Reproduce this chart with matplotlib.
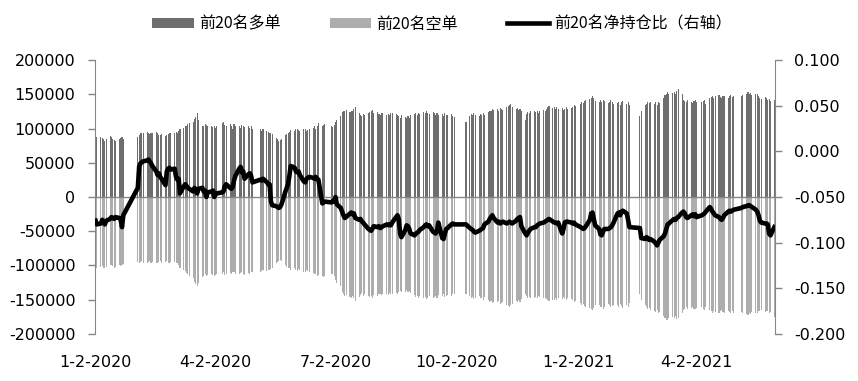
import numpy as np
import pandas as pd
import matplotlib
matplotlib.use("Agg")
import matplotlib.pyplot as plt
from matplotlib.patches import Patch
from matplotlib.lines import Line2D
import matplotlib.dates as mdates

# trading days: weekdays minus exchange holidays
start_date = "2020-01-02"
end_date = "2021-05-31"
holidays = [
    "2020-01-24", "2020-01-27", "2020-01-28", "2020-01-29", "2020-01-30", "2020-01-31",
    "2020-04-06", "2020-05-01", "2020-05-04", "2020-05-05", "2020-06-25", "2020-06-26",
    "2020-10-01", "2020-10-02", "2020-10-05", "2020-10-06", "2020-10-07", "2020-10-08",
    "2021-01-01", "2021-02-11", "2021-02-12", "2021-02-15", "2021-02-16", "2021-02-17",
    "2021-04-05", "2021-05-03", "2021-05-04", "2021-05-05",
]

# top 20 long positions, thousands of lots (one value per trading day)
long_k = [
    83, 88, 87, 86, 84, 82, 85, 89, 87, 85, 83, 82, 84, 86, 87, 85,  # 2020-01
    88, 91, 93, 94, 93, 95, 94, 92, 94, 93, 95, 94, 91, 90, 92, 89, 90, 92, 93, 94,  # 02
    93, 95, 94, 97, 99, 101, 104, 103, 106, 108, 110, 114, 117, 122, 112, 104, 103, 106, 105, 103, 104, 102,  # 03
    103, 101, 104, 108, 110, 105, 104, 107, 103, 100, 106, 104, 103, 101, 105, 104, 102, 104, 101, 103, 100,  # 04
    99, 97, 100, 96, 95, 93, 94, 92, 86, 84, 82, 83, 85, 90, 92, 94, 95, 98,  # 05
    97, 99, 100, 98, 96, 99, 100, 97, 98, 100, 101, 103, 100, 104, 108, 103, 105, 106, 104, 102,  # 06
    105, 110, 112, 118, 124, 126, 125, 127, 124, 126, 125, 128, 132, 122, 120, 118, 121, 119, 122, 124, 126, 127, 123,  # 07
    124, 121, 120, 123, 122, 120, 121, 119, 122, 123, 121, 120, 118, 116, 119, 117, 115, 118, 116, 119, 121,  # 08
    122, 120, 123, 121, 124, 122, 125, 123, 121, 124, 122, 120, 123, 119, 121, 118, 122, 120, 119, 121, 118, 117,  # 09
    110, 118, 121, 119, 122, 120, 118, 121, 120, 122, 119, 124, 126, 125, 128, 127,  # 10
    128, 126, 130, 129, 127, 131, 133, 134, 136, 132, 128, 130, 127, 129, 125, 112, 121, 124, 123, 126, 125,  # 11
    124, 126, 123, 125, 127, 125, 128, 131, 133, 130, 132, 129, 131, 128, 130, 127, 129, 131, 128, 130, 132, 134, 133,  # 12
    136, 138, 137, 140, 141, 143, 145, 147, 144, 140, 138, 141, 139, 142, 140, 137, 139, 141, 138, 136,  # 2021-01
    137, 139, 135, 138, 140, 136, 138, 134, 118, 126, 134, 136, 138, 137, 139,  # 02
    136, 138, 135, 139, 137, 145, 149, 151, 153, 150, 152, 154, 151, 155, 157, 150, 142, 140, 138, 141, 139, 137, 140,  # 03
    141, 139, 138, 140, 142, 136, 144, 146, 148, 145, 147, 149, 146, 144, 147, 148, 145, 147, 149, 146, 148,  # 04
    147, 149, 151, 153, 150, 152, 149, 151, 150, 147, 145, 143, 146, 144, 141, 143, 140, 142,  # 05
]

# top 20 short positions, thousands of lots
short_k = [
    100, 103, 102, 101, 103, 104, 102, 100, 99, 101, 103, 102, 100, 101, 99, 98,
    95, 96, 95, 94, 96, 97, 95, 94, 96, 95, 96, 97, 95, 94, 96, 95, 94, 96, 97, 95,
    95, 97, 96, 99, 103, 107, 108, 111, 112, 115, 118, 124, 127, 130, 126, 117, 115, 113, 116, 114, 112, 114,
    116, 114, 113, 112, 110, 114, 113, 111, 112, 110, 109, 112, 113, 111, 110, 112, 114, 111, 112, 110, 109,
    109, 108, 107, 108, 107, 106, 105, 104, 97, 95, 93, 92, 94, 100, 102, 103, 104, 106,
    104, 106, 108, 105, 107, 109, 110, 107, 108, 110, 111, 113, 112, 115, 114, 116, 117, 115, 113, 112,
    116, 121, 126, 130, 138, 142, 145, 143, 146, 148, 145, 147, 152, 146, 143, 140, 144, 142, 145, 146, 144, 147, 143,
    144, 142, 141, 143, 142, 141, 143, 140, 142, 141, 140, 142, 139, 137, 139, 138, 136, 139, 137, 140, 143,
    146, 144, 147, 145, 148, 146, 149, 147, 145, 148, 146, 144, 147, 143, 145, 142, 146, 144, 143, 145, 142, 141,
    141, 145, 148, 146, 149, 147, 145, 148, 147, 150, 146, 151, 153, 152, 155, 154,
    154, 152, 156, 155, 153, 157, 159, 160, 158, 156, 152, 154, 151, 153, 149, 141, 145, 147, 146, 148, 147,
    146, 147, 144, 146, 148, 147, 149, 151, 152, 150, 151, 148, 150, 147, 149, 146, 148, 150, 147, 149, 151, 153, 152,
    155, 157, 156, 159, 160, 162, 164, 165, 162, 158, 157, 160, 161, 163, 160, 156, 158, 161, 159, 157,
    158, 160, 156, 159, 162, 157, 160, 155, 142, 150, 158, 161, 163, 162, 165,
    166, 168, 165, 170, 168, 174, 177, 179, 180, 176, 175, 177, 174, 178, 176, 170, 165, 163, 161, 164, 162, 160, 163,
    164, 162, 161, 163, 165, 160, 165, 167, 169, 166, 168, 170, 167, 165, 168, 169, 166, 168, 170, 167, 169,
    168, 170, 171, 172, 169, 171, 168, 170, 169, 167, 166, 165, 168, 166, 167, 170, 168, 175,
]

# net position ratio of top 20 (right axis)
net_ratio = [
    -0.076, -0.080, -0.079, -0.075, -0.077, -0.080, -0.076, -0.074, -0.072, -0.073, -0.074, -0.072, -0.073, -0.075, -0.083, -0.070,
    -0.040, -0.017, -0.013, -0.012, -0.011, -0.010, -0.009, -0.011, -0.013, -0.016, -0.022, -0.026, -0.024, -0.028, -0.030, -0.037, -0.022, -0.019, -0.018, -0.020,
    -0.019, -0.028, -0.031, -0.030, -0.046, -0.038, -0.036, -0.038, -0.040, -0.041, -0.044, -0.040, -0.042, -0.046, -0.041, -0.040, -0.044, -0.043, -0.050, -0.045, -0.044, -0.043,
    -0.050, -0.047, -0.046, -0.045, -0.044, -0.038, -0.036, -0.040, -0.041, -0.039, -0.032, -0.027, -0.019, -0.017, -0.023, -0.022, -0.030, -0.025, -0.024, -0.027, -0.034,
    -0.031, -0.032, -0.030, -0.034, -0.036, -0.036, -0.055, -0.059, -0.060, -0.061, -0.062, -0.061, -0.058, -0.044, -0.040, -0.036, -0.027, -0.016,
    -0.018, -0.022, -0.023, -0.022, -0.026, -0.033, -0.034, -0.030, -0.029, -0.028, -0.029, -0.030, -0.028, -0.030, -0.031, -0.057, -0.056, -0.055, -0.056, -0.054,
    -0.055, -0.050, -0.058, -0.062, -0.066, -0.070, -0.073, -0.072, -0.068, -0.067, -0.069, -0.068, -0.073, -0.075, -0.074, -0.077, -0.078, -0.080, -0.085, -0.086, -0.087, -0.085, -0.082,
    -0.083, -0.082, -0.084, -0.083, -0.082, -0.080, -0.081, -0.080, -0.081, -0.078, -0.072, -0.070, -0.074, -0.090, -0.094, -0.086, -0.081, -0.082, -0.085, -0.090, -0.092,
    -0.090, -0.089, -0.088, -0.086, -0.083, -0.081, -0.080, -0.082, -0.081, -0.088, -0.089, -0.090, -0.087, -0.078, -0.095, -0.096, -0.090, -0.085, -0.084, -0.080, -0.079, -0.080,
    -0.080, -0.084, -0.085, -0.086, -0.088, -0.089, -0.087, -0.086, -0.085, -0.084, -0.080, -0.077, -0.074, -0.072, -0.070, -0.073,
    -0.078, -0.077, -0.079, -0.078, -0.077, -0.079, -0.078, -0.077, -0.078, -0.079, -0.076, -0.074, -0.073, -0.072, -0.082, -0.090, -0.092, -0.089, -0.087, -0.085, -0.083,
    -0.083, -0.081, -0.080, -0.079, -0.078, -0.077, -0.076, -0.075, -0.074, -0.077, -0.078, -0.078, -0.079, -0.078, -0.090, -0.085, -0.078, -0.077, -0.077, -0.078, -0.079, -0.078, -0.080,
    -0.083, -0.084, -0.085, -0.084, -0.082, -0.075, -0.068, -0.067, -0.074, -0.081, -0.085, -0.091, -0.092, -0.088, -0.085, -0.085, -0.084, -0.083, -0.081, -0.078,
    -0.068, -0.067, -0.070, -0.066, -0.065, -0.068, -0.075, -0.083, -0.084, -0.095, -0.096, -0.094, -0.095, -0.097, -0.096,
    -0.099, -0.101, -0.103, -0.100, -0.097, -0.093, -0.090, -0.085, -0.080, -0.079, -0.075, -0.074, -0.075, -0.073, -0.072, -0.067, -0.066, -0.068, -0.072, -0.073, -0.070, -0.069, -0.071,
    -0.069, -0.072, -0.070, -0.069, -0.068, -0.066, -0.061, -0.063, -0.066, -0.068, -0.070, -0.072, -0.074, -0.075, -0.073, -0.070, -0.066, -0.065, -0.066, -0.065, -0.064,
    -0.062, -0.061, -0.060, -0.059, -0.059, -0.060, -0.061, -0.064, -0.066, -0.070, -0.076, -0.078, -0.079, -0.079, -0.080, -0.090, -0.092, -0.083,
]

tick_dates = ["2020-01-02", "2020-04-02", "2020-07-02", "2020-10-02", "2021-01-02", "2021-04-02"]
tick_labels = ["1-2-2020", "4-2-2020", "7-2-2020", "10-2-2020", "1-2-2021", "4-2-2021"]
left_ticks = list(range(-200000, 200001, 50000))
right_ticks = ["-0.200", "-0.150", "-0.100", "-0.050", "0.000", "0.050", "0.100"]
legend_labels = ["前20名多单", "前20名空单", "前20名净持仓比（右轴）"]

days = pd.bdate_range(start_date, end_date)
days = days[~days.isin(pd.to_datetime(holidays))]
assert len(days) == len(long_k) == len(short_k) == len(net_ratio)

x = mdates.date2num(days.to_pydatetime())
long_vals = np.array(long_k) * 1000
short_vals = -np.array(short_k) * 1000

long_color = "#6e6e6e"
short_color = "#adadad"
axis_gray = "#868686"

plt.rcParams["font.family"] = ["DejaVu Sans"]

fig = plt.figure(figsize=(8.58, 3.81), dpi=100)
ax = fig.add_axes([0.1107, 0.1234, 0.7926, 0.7191])

ax.bar(x, long_vals, width=0.8, color=long_color, linewidth=0)
ax.bar(x, short_vals, width=0.8, color=short_color, linewidth=0)
ax.axhline(0, color=axis_gray, linewidth=1)

ax.set_xlim(x[0] - 0.5, x[-1] + 0.5)
ax.set_ylim(-200000, 200000)
ax.set_yticks(left_ticks)
ax.set_yticklabels([str(v) for v in left_ticks])
ax.set_xticks(mdates.date2num(pd.to_datetime(tick_dates).to_pydatetime()))
ax.set_xticklabels(tick_labels)

ax2 = ax.twinx()
ax2.plot(x, net_ratio, color="black", linewidth=3.3, solid_joinstyle="round")
ax2.set_ylim(-0.2, 0.1)
ax2.set_yticks([float(t) for t in right_ticks])
ax2.set_yticklabels(right_ticks)

for a in (ax, ax2):
    for side in ("top", "bottom"):
        a.spines[side].set_visible(False)
    a.spines["left"].set_color(axis_gray)
    a.spines["right"].set_color(axis_gray)
ax.spines["right"].set_visible(False)
ax2.spines["left"].set_visible(False)

ax.tick_params(axis="y", length=5, width=1, color=axis_gray, pad=9, labelsize=11.5)
ax.tick_params(axis="x", length=0, pad=15, labelsize=11.5)
ax2.tick_params(axis="y", length=5, width=1, color=axis_gray, pad=9, labelsize=11.5)

handles = [
    Patch(facecolor=long_color, edgecolor="none"),
    Patch(facecolor=short_color, edgecolor="none"),
    Line2D([0], [0], color="black", linewidth=3.3),
]
fig.legend(handles, legend_labels, loc="center", bbox_to_anchor=(0.515, 0.937),
           ncol=3, frameon=False, handlelength=2.6, handleheight=0.65,
           handletextpad=0.3, columnspacing=3.1,
           prop={"family": ["Noto Sans CJK SC", "DejaVu Sans"], "size": 11.5})

fig.savefig("out.png", dpi=100)
